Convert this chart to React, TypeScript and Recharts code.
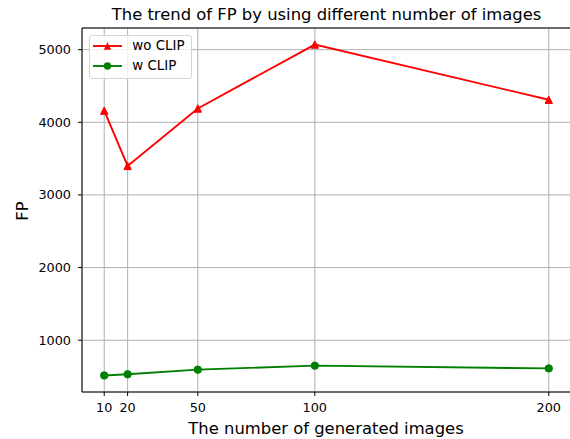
import React from 'react';
import { LineChart, Line, XAxis, YAxis, CartesianGrid, ReferenceLine, Customized } from 'recharts';

const xValues = [10, 20, 50, 100, 200];
const woClip = [4160, 3400, 4190, 5070, 4310];
const wClip = [515, 531, 595, 650, 612];
const xTicks = [10, 20, 50, 100, 200];
const yTicks = [1000, 2000, 3000, 4000, 5000];
const seriesNames = ['wo CLIP', 'w CLIP'];
const seriesColors = ['#ff0000', '#008000'];
const titleText = 'The trend of FP by using different number of images';
const xLabelText = 'The number of generated images';
const yLabelText = 'FP';

const data = xValues.map((x, i) => ({ x, wo: woClip[i], w: wClip[i] }));

// matplotlib-like 5% margins
const allY = [...woClip, ...wClip];
const yMinD = Math.min(...allY);
const yMaxD = Math.max(...allY);
const yPad = (yMaxD - yMinD) * 0.05;
const yDomain: [number, number] = [yMinD - yPad, yMaxD + yPad];
const xMinD = Math.min(...xValues);
const xMaxD = Math.max(...xValues);
const xPad = (xMaxD - xMinD) * 0.05;
const xDomain: [number, number] = [xMinD - xPad, xMaxD + xPad];

const FONT = '"DejaVu Sans", sans-serif';
const MS = 7.4;
const LABEL_SIZE = 16.4;
const TICK_SIZE = 12.8;

const Triangle = (props: any) => {
  const { cx, cy, fill, index } = props;
  if (cx == null || cy == null) return <g key={`t-${index}`} />;
  const h = MS / 2;
  return (
    <polygon
      key={`t-${index}`}
      points={`${cx},${cy - h} ${cx - h},${cy + h} ${cx + h},${cy + h}`}
      fill={fill}
      stroke={fill}
      strokeWidth={1}
    />
  );
};

const Circle = (props: any) => {
  const { cx, cy, fill, index } = props;
  if (cx == null || cy == null) return <g key={`c-${index}`} />;
  return <circle key={`c-${index}`} cx={cx} cy={cy} r={MS / 2} fill={fill} stroke={fill} strokeWidth={1} />;
};

const LegendBox = () => (
  <div
    style={{
      position: 'absolute',
      left: 89,
      top: 35,
      width: 103,
      height: 44,
      boxSizing: 'border-box',
      border: '1px solid #d6d6d6',
      borderRadius: 3,
      background: 'rgba(255,255,255,0.8)',
      fontFamily: FONT,
      fontSize: 13.4,
      color: '#000',
    }}
  >
    {seriesNames.map((name, i) => (
      <div key={name} style={{ position: 'absolute', left: 0, top: 1 + i * 20, height: 18, width: 101 }}>
        <svg width={40} height={18} style={{ position: 'absolute', left: 0, top: 0 }}>
          <line x1={3} y1={9} x2={32} y2={9} stroke={seriesColors[i]} strokeWidth={1.9} />
          {i === 0 ? (
            <polygon
              points={`17.5,${9 - MS / 2} ${17.5 - MS / 2},${9 + MS / 2} ${17.5 + MS / 2},${9 + MS / 2}`}
              fill={seriesColors[i]}
            />
          ) : (
            <circle cx={17.5} cy={9} r={MS / 2} fill={seriesColors[i]} />
          )}
        </svg>
        <span style={{ position: 'absolute', left: 42.3, top: 0, lineHeight: '18px', whiteSpace: 'nowrap' }}>{name}</span>
      </div>
    ))}
  </div>
);

const Texts = () => (
  <g>
    <text x={326.5} y={19.5} textAnchor="middle" fontFamily={FONT} fontSize={LABEL_SIZE} fill="#000">
      {titleText}
    </text>
    <text x={326} y={434} textAnchor="middle" fontFamily={FONT} fontSize={LABEL_SIZE} fill="#000">
      {xLabelText}
    </text>
    <text
      x={27.5}
      y={211}
      textAnchor="middle"
      fontFamily={FONT}
      fontSize={LABEL_SIZE}
      fill="#000"
      transform="rotate(-90 27.5 211)"
    >
      {yLabelText}
    </text>
  </g>
);

export default function App() {
  return (
    <div style={{ position: 'absolute', left: 0, top: 0, width: 570, height: 439, overflow: 'hidden', background: '#fff' }}>
      <LineChart
        width={572}
        height={439}
        data={data}
        margin={{ top: 28, right: 1, bottom: 0, left: 0 }}
      >
        <CartesianGrid stroke="#b0b0b0" strokeWidth={1} horizontal vertical />
        <XAxis
          dataKey="x"
          type="number"
          domain={xDomain}
          ticks={xTicks}
          interval={0}
          height={47}
          axisLine={{ stroke: '#000', strokeWidth: 1 }}
          tickLine={{ stroke: '#000', strokeWidth: 1 }}
          tickSize={4}
          tickMargin={7}
          tick={{ fill: '#000', fontFamily: FONT, fontSize: TICK_SIZE }}
          allowDataOverflow
        />
        <YAxis
          type="number"
          domain={yDomain}
          ticks={yTicks}
          interval={0}
          width={82}
          axisLine={{ stroke: '#000', strokeWidth: 1 }}
          tickLine={{ stroke: '#000', strokeWidth: 1 }}
          tickSize={4}
          tickMargin={7}
          tick={{ fill: '#000', fontFamily: FONT, fontSize: TICK_SIZE }}
          allowDataOverflow
        />
        <ReferenceLine y={yDomain[1]} stroke="#000" strokeWidth={1} />
        <Line
          dataKey="wo"
          name={seriesNames[0]}
          stroke={seriesColors[0]}
          fill={seriesColors[0]}
          strokeWidth={1.9}
          dot={Triangle}
          activeDot={false}
          isAnimationActive={false}
        />
        <Line
          dataKey="w"
          name={seriesNames[1]}
          stroke={seriesColors[1]}
          fill={seriesColors[1]}
          strokeWidth={1.9}
          dot={Circle}
          activeDot={false}
          isAnimationActive={false}
        />
        <Customized component={Texts} />
      </LineChart>
      <LegendBox />
    </div>
  );
}
